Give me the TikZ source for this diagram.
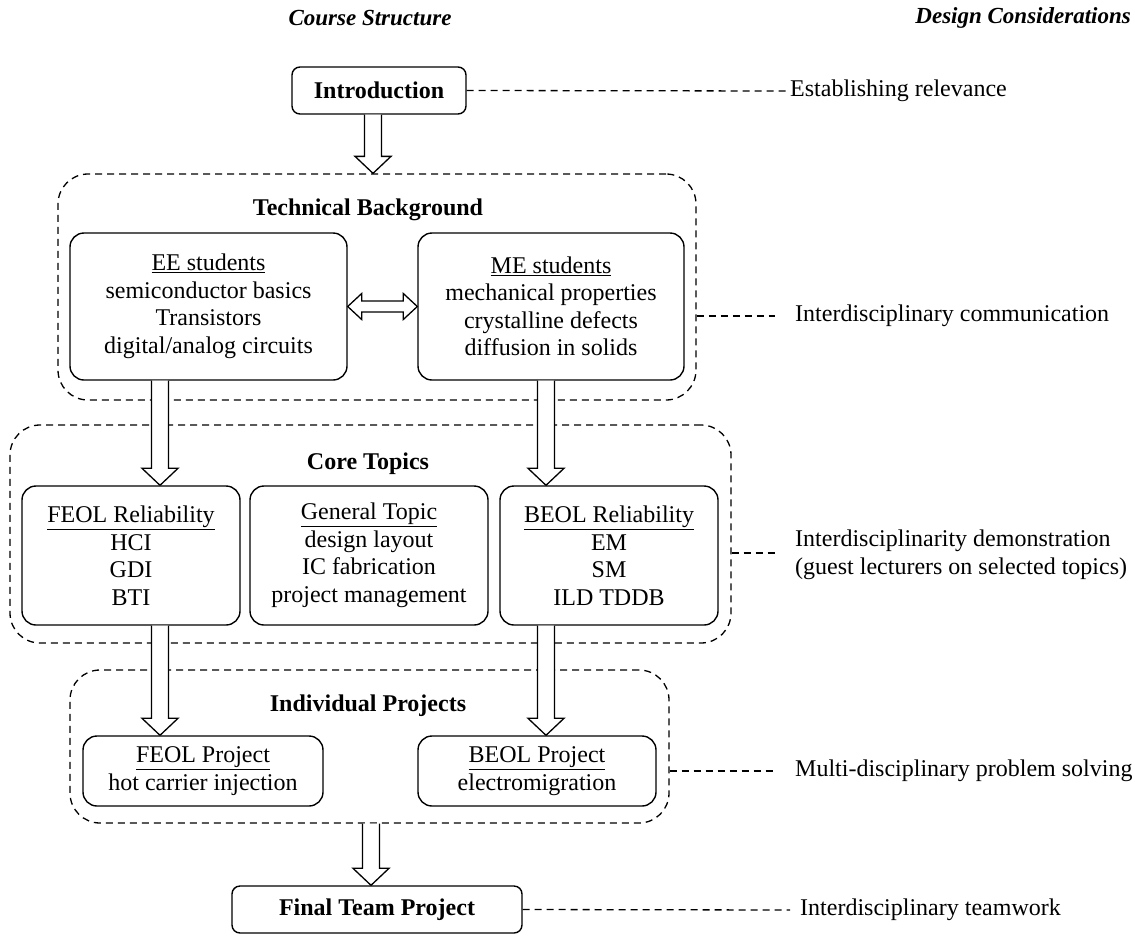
\documentclass[tikz,border=0pt]{standalone}
\usepackage{fontspec}
\setmainfont{Liberation Serif}
\usetikzlibrary{calc}
\newcommand{\basefs}{\fontsize{24}{27.5}\selectfont}
\newcommand{\hdrfs}{\fontsize{23}{26}\selectfont}
\tikzset{
  box/.style={draw, line width=1.4pt, rounded corners=14pt, align=center, inner sep=0pt},
  smallbox/.style={draw, line width=1.4pt, rounded corners=8pt, align=center, inner sep=0pt, font=\basefs\bfseries},
  cont/.style={draw, line width=1.3pt, dash pattern=on 7pt off 5pt, rounded corners=30pt, inner sep=0pt},
  ttl/.style={font=\basefs\bfseries, inner sep=2pt},
  hdr/.style={font=\hdrfs\bfseries\itshape, inner sep=2pt},
  note/.style={anchor=west, align=left, inner sep=2pt},
  link/.style={line width=1.3pt, dash pattern=on 7pt off 5pt},
  barrow/.style={draw, line width=1.3pt, fill=white, line join=miter},
}
\newcommand{\barrowV}[2]{\draw[barrow] let \p1=(#1), \p2=(#2) in
  (\x1-8.5pt,\y1) -- (\x1-8.5pt,\y2+17pt) -- (\x1-18pt,\y2+17pt) -- (\x1,\y2)
  -- (\x1+18pt,\y2+17pt) -- (\x1+8.5pt,\y2+17pt) -- (\x1+8.5pt,\y1);}
\newcommand{\barrowH}[2]{\draw[barrow] let \p1=(#1), \p2=(#2) in
  (\x1,\y1) -- (\x1+14pt,\y1+13pt) -- (\x1+14pt,\y1+5.5pt) -- (\x2-14pt,\y1+5.5pt)
  -- (\x2-14pt,\y1+13pt) -- (\x2,\y1) -- (\x2-14pt,\y1-13pt) -- (\x2-14pt,\y1-5.5pt)
  -- (\x1+14pt,\y1-5.5pt) -- (\x1+14pt,\y1-13pt) -- cycle;}
\begin{document}
\begin{tikzpicture}[x=1pt, y=-1pt, font=\basefs]
\useasboundingbox (0,0) rectangle (1135,951);

% headers
\node[hdr] (h1) at (370,18) {Course Structure};
\node[hdr, anchor=east] (h2) at (1133,18) {Design Considerations};

% containers
\node[cont, minimum width=638pt, minimum height=226pt] (tb) at (377,287) {};
\node[cont, minimum width=721pt, minimum height=218pt] (core) at (370.5,534) {};
\node[cont, minimum width=599pt, minimum height=153pt] (ind) at (369.5,746.5) {};

\node[ttl] (tbt) at (368,210) {Technical Background};
\node[ttl] (coret) at (368,464) {Core Topics};
\node[ttl] (indt) at (368,706) {Individual Projects};

% boxes
\node[smallbox, minimum width=174pt, minimum height=47pt] (intro) at (379,90.5) {Introduction};
\node[box, minimum width=277pt, minimum height=147pt] (ee) at (208.5,306.5)
  {\underline{EE students}\\semiconductor basics\\Transistors\\digital/analog circuits};
\node[box, minimum width=266pt, minimum height=147pt] (me) at (551,306.5)
  {\underline{ME students}\\mechanical properties\\crystalline defects\\diffusion in solids};
\node[box, minimum width=218pt, minimum height=139pt] (feol) at (131,555.5)
  {\underline{FEOL Reliability}\\HCI\\GDI\\BTI};
\node[box, minimum width=238pt, minimum height=139pt] (gen) at (369,555.5)
  {\underline{General Topic}\\design layout\\IC fabrication\\project management};
\node[box, minimum width=218pt, minimum height=139pt] (beol) at (609,555.5)
  {\underline{BEOL Reliability}\\EM\\SM\\ILD TDDB};
\node[box, minimum width=240pt, minimum height=70pt] (feolp) at (203,771)
  {\underline{FEOL Project}\\hot carrier injection};
\node[box, minimum width=238pt, minimum height=70pt] (beolp) at (537,771)
  {\underline{BEOL Project}\\electromigration};
\node[smallbox, minimum width=290pt, minimum height=47pt] (final) at (377,909.5) {Final Team Project};

% notes
\node[note] (n1) at (788,91) {Establishing relevance};
\node[note] (n2) at (793,316) {Interdisciplinary communication};
\node[note] (n3) at (793,555) {Interdisciplinarity demonstration\\(guest lecturers on selected topics)};
\node[note] (n4) at (793,771) {Multi-disciplinary problem solving};
\node[note] (n5) at (798,910) {Interdisciplinary teamwork};

\coordinate (c2) at (775,316);
\coordinate (c3) at (775,553);
\coordinate (c4) at (775,771);
\coordinate (c5) at (790,910);

\draw[link] (intro.east) -- (n1.west);
\draw[link] (tb.east |- c2) -- (c2);
\draw[link] (core.east |- c3) -- (c3);
\draw[link] (ind.east |- c4) -- (c4);
\draw[link] (final.east) -- (c5);

% arrow columns
\coordinate (ax0) at (373,0);
\coordinate (axl) at (160,0);
\coordinate (axr) at (546,0);
\coordinate (axf) at (371,0);

\barrowV{intro.south -| ax0}{tb.north -| ax0}
\barrowV{ee.south -| axl}{feol.north -| axl}
\barrowV{me.south -| axr}{beol.north -| axr}
\barrowV{feol.south -| axl}{feolp.north -| axl}
\barrowV{beol.south -| axr}{beolp.north -| axr}
\barrowV{ind.south -| axf}{final.north -| axf}
\barrowH{ee.east}{me.west}
\end{tikzpicture}
\end{document}
